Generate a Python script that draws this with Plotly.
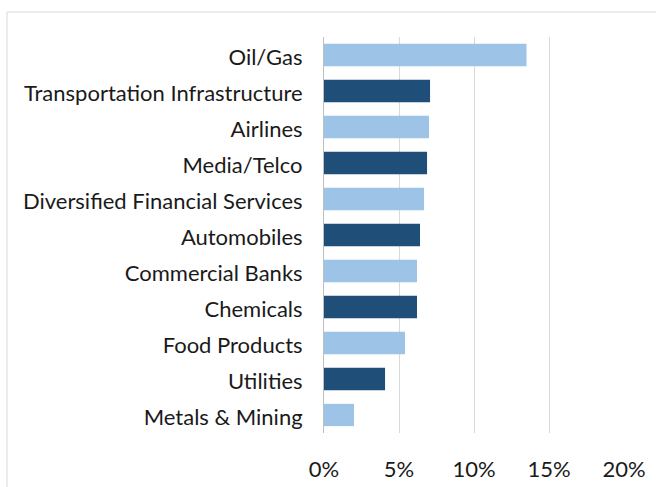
import plotly.graph_objects as go

# Sector weights (share of portfolio), listed top to bottom
sectors = [
    "Oil/Gas",
    "Transportation Infrastructure",
    "Airlines",
    "Media/Telco",
    "Diversified Financial Services",
    "Automobiles",
    "Commercial Banks",
    "Chemicals",
    "Food Products",
    "Utilities",
    "Metals & Mining",
]
weights = [0.135, 0.0707, 0.070, 0.0687, 0.0667, 0.064, 0.062, 0.062, 0.054, 0.0407, 0.020]

LIGHT = "#9DC3E6"
DARK = "#1F4E79"
bar_colors = [LIGHT if i % 2 == 0 else DARK for i in range(len(sectors))]

x_ticks = [0, 0.05, 0.10, 0.15, 0.20]

fig = go.Figure(
    go.Bar(
        x=weights,
        y=sectors,
        orientation="h",
        marker=dict(color=bar_colors, line=dict(width=0)),
        width=0.62,
    )
)

font_family = "Lato, 'Liberation Sans', sans-serif"

fig.update_layout(
    width=656,
    height=487,
    margin=dict(l=324, r=32, t=37, b=54),
    paper_bgcolor="white",
    plot_bgcolor="white",
    showlegend=False,
    font=dict(family=font_family, size=22, color="#1a1a1a"),
    xaxis=dict(
        range=[0, 0.20],
        tickvals=x_ticks,
        tickformat=".0%",
        showgrid=True,
        gridcolor="#D9D9D9",
        gridwidth=1,
        zeroline=False,
        showline=False,
        ticks="outside",
        ticklen=17,
        tickcolor="rgba(0,0,0,0)",
        automargin=False,
    ),
    yaxis=dict(
        categoryorder="array",
        categoryarray=sectors[::-1],
        showgrid=False,
        zeroline=False,
        showline=True,
        linecolor="#BFBFBF",
        linewidth=1,
        ticks="outside",
        ticklen=16,
        tickcolor="rgba(0,0,0,0)",
        ticklabelshift=2,
        automargin=False,
    ),
    shapes=[
        dict(
            type="rect",
            xref="paper",
            yref="paper",
            x0=(7 - 324) / 300,
            x1=(700 - 324) / 300,
            y0=(433 - 520) / 396,
            y1=(433 - 12) / 396,
            line=dict(color="#D9D9D9", width=1),
            fillcolor="rgba(0,0,0,0)",
            layer="below",
        )
    ],
)

fig.write_html("out.html")
